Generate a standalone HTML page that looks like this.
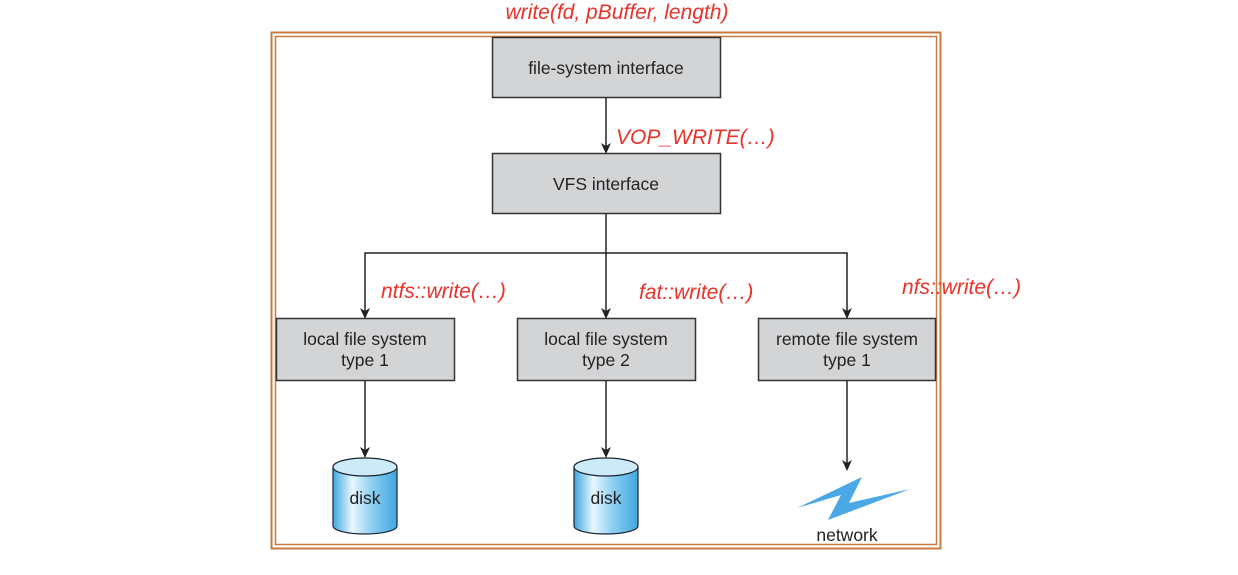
<!DOCTYPE html>
<html><head><style>
body{margin:0;background:#fff;width:1238px;height:570px;overflow:hidden}
svg text{font-family:"Liberation Sans",sans-serif}
</style></head><body>
<svg width="1238" height="570" viewBox="0 0 1238 570">
<defs>
<linearGradient id="g" x1="0" x2="1"><stop offset="0" stop-color="#3fa7e0"/><stop offset="0.3" stop-color="#e8f6fd"/><stop offset="0.6" stop-color="#8fd0f2"/><stop offset="1" stop-color="#3fa7e0"/></linearGradient>
</defs>
<rect x="271.5" y="32.5" width="669" height="516" fill="none" stroke="#c87a40" stroke-width="2"/>
<rect x="275.5" y="36.5" width="661" height="508" fill="none" stroke="#c87a40" stroke-width="1.5"/>
<text x="617" y="19" fill="#e8322a" font-size="21" font-style="italic" text-anchor="middle">write(fd, pBuffer, length)</text>
<g fill="#d3d4d6" stroke="#333" stroke-width="1.5">
<rect x="492.5" y="37.5" width="228" height="60"/>
<rect x="492.5" y="153.5" width="228" height="60"/>
<rect x="276.5" y="318.5" width="178" height="62"/>
<rect x="517.5" y="318.5" width="178" height="62"/>
<rect x="758.5" y="318.5" width="177" height="62"/>
</g>
<g font-size="17.5" fill="#222" text-anchor="middle">
<text x="606" y="74">file-system interface</text>
<text x="606" y="190">VFS interface</text>
<text x="365" y="345">local file system</text><text x="365" y="366">type 1</text>
<text x="606" y="345">local file system</text><text x="606" y="366">type 2</text>
<text x="847" y="345">remote file system</text><text x="847" y="366">type 1</text>
</g>
<g stroke="#222" stroke-width="1.5" fill="none">
<line x1="606" y1="98" x2="606" y2="146"/>
<line x1="606" y1="214" x2="606" y2="311"/>
<polyline points="365,311 365,253 847,253 847,311"/>
<line x1="365" y1="381" x2="365" y2="450"/>
<line x1="606" y1="381" x2="606" y2="450"/>
<line x1="847" y1="381" x2="847" y2="463"/>
</g>
<g fill="#222">
<polygon points="601,143 606,154 611,143 606,146"/>
<polygon points="601,308 606,319 611,308 606,311"/>
<polygon points="360,308 365,319 370,308 365,311"/>
<polygon points="842,308 847,319 852,308 847,311"/>
<polygon points="360,447 365,458 370,447 365,450"/>
<polygon points="601,447 606,458 611,447 606,450"/>
<polygon points="842,460 847,471 852,460 847,463"/>
</g>
<g font-size="21" font-style="italic" fill="#e8322a">
<text x="616" y="144">VOP_WRITE(…)</text>
<text x="381" y="298">ntfs::write(…)</text>
<text x="639" y="299">fat::write(…)</text>
<text x="902" y="294">nfs::write(…)</text>
</g>
<g stroke="#1a2530" stroke-width="1.2">
<path d="M333,467 L333,526 A32,8 0 0 0 397,526 L397,467" fill="url(#g)"/>
<ellipse cx="365" cy="467" rx="32" ry="9" fill="#cdeaf9"/>
<path d="M574,467 L574,526 A32,8 0 0 0 638,526 L638,467" fill="url(#g)"/>
<ellipse cx="606" cy="467" rx="32" ry="9" fill="#cdeaf9"/>
</g>
<g font-size="17.5" fill="#222" text-anchor="middle">
<text x="365" y="504">disk</text><text x="606" y="504">disk</text>
<text x="847" y="541">network</text>
</g>
<polygon points="797,508 862,477 849,503 910,489 828,520 841,495" fill="#4aa8e6"/>
</svg>
</body></html>
